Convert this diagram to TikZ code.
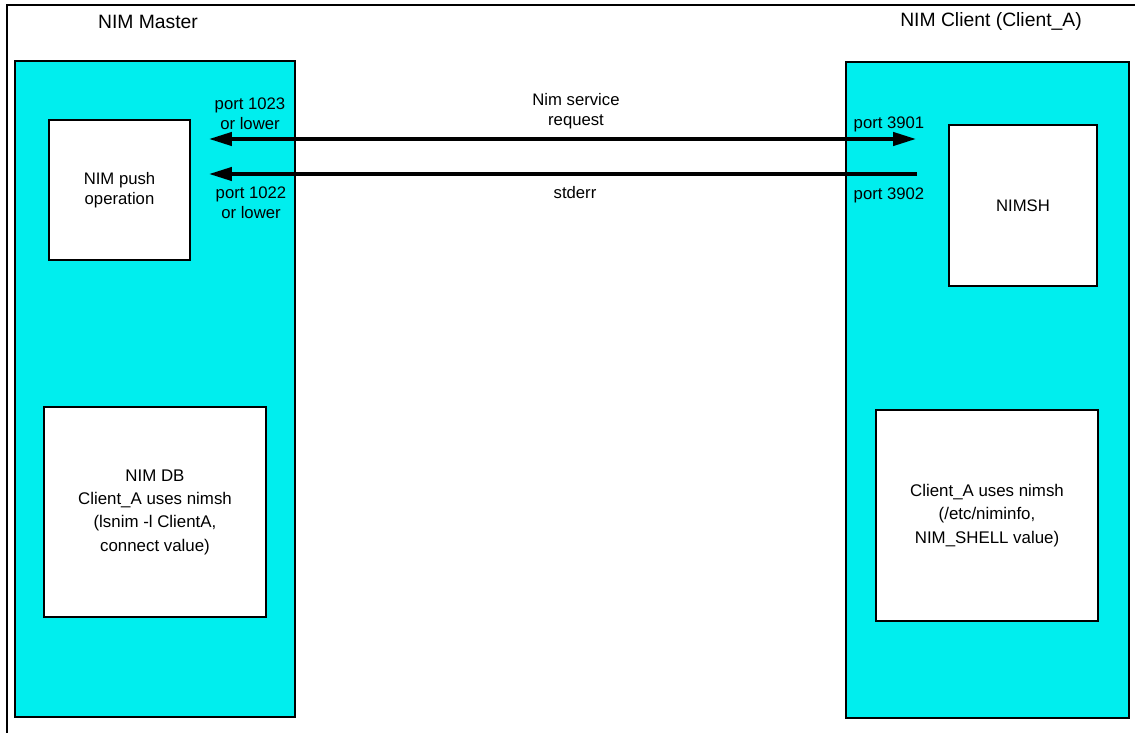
\documentclass[tikz,border=0pt]{standalone}
\usepackage{fontspec}
\setmainfont{Liberation Sans}
\usetikzlibrary{arrows.meta}
\definecolor{nimcyan}{RGB}{0,238,238}
\begin{document}
\begin{tikzpicture}[
  x=0.02cm, y=-0.02cm,
  panel/.style={draw, line width=0.8pt, fill=nimcyan, inner sep=0pt, outer sep=0pt},
  box/.style={draw, line width=0.8pt, fill=white, align=center, inner sep=0pt,
              outer sep=0pt, font=\fontsize{9.5}{11.3}\selectfont},
  dbbox/.style={box, font=\fontsize{9.6}{13.3}\selectfont},
  lbl/.style={align=center, font=\fontsize{9.5}{11.3}\selectfont},
  ttl/.style={font=\fontsize{11}{13}\selectfont},
  arr/.style={line width=2pt, >={Triangle[length=13pt, width=7.5pt]}}
]
  \useasboundingbox (0,0) rectangle (1135,733);
  \draw[line width=0.6pt] (1135,5) -- (7,5) -- (7,733);

  %-- NIM Master
  \node[ttl] (mtitle) at (148,22) {NIM Master};
  \node[panel, minimum width=5.6cm, minimum height=13.12cm] (master) at (155,389) {};
  \node[box, minimum width=2.82cm, minimum height=2.8cm] (push) at (119.5,190) {NIM push\\operation};
  \node[dbbox, minimum width=4.44cm, minimum height=4.2cm] (nimdb) at (155,512)
       {NIM DB\\Client\_A uses nimsh\\(lsnim -l ClientA,\\connect value)};

  %-- NIM Client
  \node[ttl] (ctitle) at (991,22) {NIM Client (Client\_A)};
  \node[panel, minimum width=5.66cm, minimum height=13.12cm] (client) at (987.5,390) {};
  \node[box, minimum width=2.96cm, minimum height=3.22cm] (nimsh) at (1023,205.5) {NIMSH};
  \node[dbbox, minimum width=4.44cm, minimum height=4.22cm] (cinfo) at (987,515.5)
       {Client\_A uses nimsh\\(/etc/niminfo,\\NIM\_SHELL value)};

  %-- Ports
  \coordinate (m1) at (209,139);
  \coordinate (t1) at (368,139);
  \coordinate (c1) at (916,139);
  \coordinate (c2) at (917,174);
  \coordinate (m2) at (209,174);

  \node[lbl] (p1023) at (250,114) {port 1023\\or lower};
  \node[lbl] (p1022) at (251,203) {port 1022\\or lower};
  \node[lbl] (p3901) at (889,124) {port 3901};
  \node[lbl] (p3902) at (889,195) {port 3902};
  \node[lbl] (req)   at (576,111) {Nim service\\request};
  \node[lbl] (err)   at (575,193) {stderr};

  %-- Arrows
  \draw[arr, <->] (m1) -- (c1);
  \draw[line width=2.5pt] (m1) ++(8,0) -- (t1);
  \draw[arr, ->]  (c2) -- (m2);
\end{tikzpicture}
\end{document}
